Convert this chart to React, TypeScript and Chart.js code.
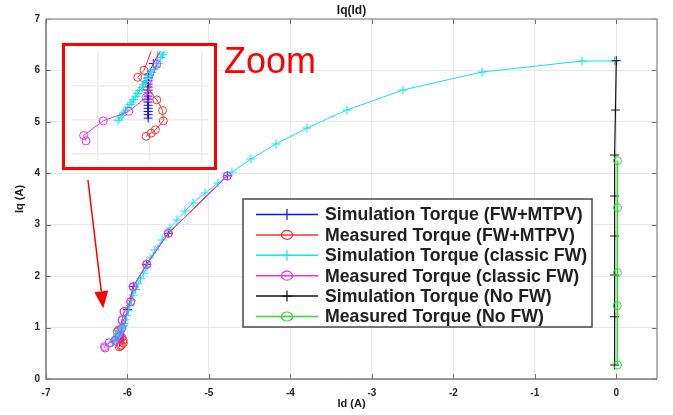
import React, { useEffect, useRef } from "react";
import { Chart, registerables } from "chart.js";

Chart.register(...registerables);

const FONT = "'Liberation Sans', Arial, Helvetica, sans-serif";

// ---- axes ----
const xTicks = [-7, -6, -5, -4, -3, -2, -1, 0];
const yTicks = [0, 1, 2, 3, 4, 5, 6, 7];
const xRange = [-7, 0.5];
const yRange = [0, 7];
const chartTitle = "Iq(Id)";
const xTitle = "Id (A)";
const yTitle = "Iq (A)";

// ---- inset (zoomed view) axes ----
const insetXRange = [-6.32, -5.92];
const insetYRange = [0.5, 1.05];
const insetXTicks = [-6.24, -6.09, -5.94];
const insetYTicks = [0.54, 0.71, 0.88];
const zoomLabel = "Zoom";
const arrowFrom = { x: -6.485, y: 3.87 };
const arrowTo = { x: -6.297, y: 1.375 };

// ---- series labels ----
const seriesLabels = [
  "Simulation Torque (FW+MTPV)",
  "Measured Torque (FW+MTPV)",
  "Simulation Torque (classic FW)",
  "Measured Torque (classic FW)",
  "Simulation Torque (No FW)",
  "Measured Torque (No FW)",
];

// Simulation Torque (FW+MTPV)
const simMtpvX = [-4.775, -5.499, -5.764, -5.929, -6.0, -6.05, -6.08, -6.095, -6.095, -6.095, -6.095, -6.095, -6.095, -6.095, -6.095, -6.095, -6.095, -6.095, -6.095, -6.095, -6.095, -6.095];
const simMtpvY = [3.95, 2.833, 2.23, 1.795, 1.35, 1.08, 0.99, 0.933, 0.918, 0.903, 0.887, 0.872, 0.857, 0.843, 0.827, 0.812, 0.797, 0.781, 0.766, 0.75, 0.734, 0.717];

// Measured Torque (FW+MTPV)
const measMtpvX = [-4.775, -5.499, -5.764, -5.929, -5.96, -6.04, -6.065, -6.107, -6.125, -6.101, -6.07, -6.053, -6.051, -6.074, -6.086, -6.101];
const measMtpvY = [3.947, 2.833, 2.23, 1.795, 1.503, 1.309, 1.147, 0.956, 0.921, 0.876, 0.808, 0.755, 0.703, 0.658, 0.642, 0.626];

// Simulation Torque (classic FW)
const simClassicX = [-0.02, -0.421, -1.648, -2.618, -3.306, -3.797, -4.177, -4.484, -4.717, -4.889, -5.048, -5.195, -5.294, -5.392, -5.478, -5.576, -5.662, -5.723, -5.76, -5.8, -5.84, -5.87, -5.9, -5.93, -5.95, -5.97, -5.99, -6.01, -6.03, -6.04, -6.05, -6.053, -6.058, -6.066, -6.072, -6.079, -6.085, -6.09, -6.097, -6.102, -6.108, -6.112, -6.119, -6.125, -6.131, -6.137, -6.142, -6.147, -6.154, -6.16, -6.166, -6.171, -6.177, -6.182];
const simClassicY = [6.185, 6.183, 5.969, 5.619, 5.23, 4.88, 4.569, 4.278, 4.025, 3.811, 3.617, 3.422, 3.267, 3.092, 2.936, 2.703, 2.508, 2.353, 2.178, 2.06, 1.95, 1.85, 1.74, 1.63, 1.53, 1.43, 1.33, 1.24, 1.15, 1.08, 1.047, 1.034, 1.02, 0.99, 0.976, 0.96, 0.945, 0.93, 0.915, 0.9, 0.885, 0.87, 0.855, 0.84, 0.826, 0.81, 0.797, 0.785, 0.771, 0.757, 0.743, 0.73, 0.718, 0.706];

// Measured Torque (classic FW)
const measClassicX = [-4.775, -5.499, -5.764, -5.929, -5.96, -6.04, -6.065, -6.07, -6.101, -6.151, -6.225, -6.282, -6.275];
const measClassicY = [3.947, 2.833, 2.23, 1.795, 1.503, 1.309, 1.147, 0.986, 0.82, 0.751, 0.703, 0.63, 0.603];

// Simulation Torque (No FW)
const simNoFwX = [0.0, -0.01, -0.02, -0.02, -0.02, -0.02, -0.02, -0.02];
const simNoFwY = [6.189, 5.23, 4.355, 3.558, 2.781, 2.022, 1.211, 0.272];

// Measured Torque (No FW)
const measNoFwX = [0.015, 0.015, 0.015, 0.012, 0.015];
const measNoFwY = [4.245, 3.331, 2.067, 1.425, 0.272];

const seriesX = [simMtpvX, measMtpvX, simClassicX, measClassicX, simNoFwX, measNoFwX];
const seriesY = [simMtpvY, measMtpvY, simClassicY, measClassicY, simNoFwY, measNoFwY];
const seriesColors = ["#1010ff", "#ff3030", "#10e4ec", "#ee30ee", "#111111", "#28e028"];
const seriesMarkers = ["cross", "circle", "cross", "circle", "cross", "circle"];
const seriesLineWidths = [1, 1, 1, 1, 1.2, 1.5];
const seriesOrder = [5, 4, 3, 2, 1, 0];

function buildDatasets(markerScale: number) {
  return seriesLabels.map((label, i) => ({
    label,
    data: seriesX[i].map((x, j) => ({ x, y: seriesY[i][j] })),
    showLine: true,
    borderColor: seriesColors[i],
    borderWidth: seriesLineWidths[i],
    pointStyle: seriesMarkers[i],
    pointRadius: (seriesMarkers[i] === "circle" ? 4 : 4.5) * markerScale,
    pointBorderWidth: 1,
    pointBorderColor: seriesColors[i],
    pointBackgroundColor: "rgba(0,0,0,0)",
    pointHoverRadius: 0,
    tension: 0,
    fill: false,
    order: seriesOrder[i],
  }));
}

const framePlugin = {
  id: "matlabFrame",
  afterDatasetsDraw(chart: any) {
    const ctx = chart.ctx;
    const { left, right, top, bottom } = chart.chartArea;
    const xs = chart.scales.x;
    const ys = chart.scales.y;
    ctx.save();
    ctx.strokeStyle = "#6e6e6e";
    ctx.lineWidth = 1;
    ctx.beginPath();
    xTicks.forEach((v) => {
      const px = Math.round(xs.getPixelForValue(v)) + 0.5;
      ctx.moveTo(px, bottom);
      ctx.lineTo(px, bottom - 5);
      ctx.moveTo(px, top);
      ctx.lineTo(px, top + 5);
    });
    yTicks.forEach((v) => {
      const py = Math.round(ys.getPixelForValue(v)) + 0.5;
      ctx.moveTo(left, py);
      ctx.lineTo(left + 5, py);
      ctx.moveTo(right, py);
      ctx.lineTo(right - 5, py);
    });
    ctx.stroke();
    ctx.lineWidth = 1.6;
    ctx.strokeStyle = "#a0a0a0";
    ctx.beginPath();
    ctx.moveTo(left, top);
    ctx.lineTo(right, top);
    ctx.lineTo(right, bottom);
    ctx.stroke();
    ctx.strokeStyle = "#7c7c7c";
    ctx.beginPath();
    ctx.moveTo(left, top);
    ctx.lineTo(left, bottom);
    ctx.lineTo(right, bottom);
    ctx.stroke();
    ctx.restore();
  },
  afterDraw(chart: any) {
    const ctx = chart.ctx;
    const { left, right, top, bottom } = chart.chartArea;
    const xs = chart.scales.x;
    const ys = chart.scales.y;
    ctx.save();
    ctx.fillStyle = "#1a1a1a";
    ctx.textAlign = "center";
    ctx.textBaseline = "middle";
    ctx.font = `bold 12px ${FONT}`;
    ctx.fillText(chartTitle, (left + right) / 2, top - 8);
    ctx.font = `bold 11px ${FONT}`;
    ctx.fillText(xTitle, (left + right) / 2, bottom + 25);
    ctx.save();
    ctx.translate(left - 26, (top + bottom) / 2);
    ctx.rotate(-Math.PI / 2);
    ctx.fillText(yTitle, 0, 0);
    ctx.restore();

    // arrow
    const x0 = xs.getPixelForValue(arrowFrom.x);
    const y0 = ys.getPixelForValue(arrowFrom.y);
    const x1 = xs.getPixelForValue(arrowTo.x);
    const y1 = ys.getPixelForValue(arrowTo.y);
    const ang = Math.atan2(y1 - y0, x1 - x0);
    const headLen = 17;
    const headHalf = 7;
    const bx = x1 - headLen * Math.cos(ang);
    const by = y1 - headLen * Math.sin(ang);
    ctx.strokeStyle = "#ff0000";
    ctx.fillStyle = "#ff0000";
    ctx.lineWidth = 1.5;
    ctx.beginPath();
    ctx.moveTo(x0, y0);
    ctx.lineTo(bx, by);
    ctx.stroke();
    ctx.beginPath();
    ctx.moveTo(x1, y1);
    ctx.lineTo(bx + headHalf * Math.sin(ang), by - headHalf * Math.cos(ang));
    ctx.lineTo(bx - headHalf * Math.sin(ang), by + headHalf * Math.cos(ang));
    ctx.closePath();
    ctx.fill();

    // legend
    const lgLeft = left + 197;
    const lgTop = top + 180;
    const lgW = 349;
    const lgH = 128;
    ctx.fillStyle = "#ffffff";
    ctx.fillRect(lgLeft, lgTop, lgW, lgH);
    ctx.strokeStyle = "#4a4a4a";
    ctx.lineWidth = 1.5;
    ctx.strokeRect(lgLeft, lgTop, lgW, lgH);
    const rowStart = lgTop + 15.5;
    const rowStep = 20.4;
    seriesLabels.forEach((label, i) => {
      const ry = rowStart + i * rowStep;
      const lx0 = lgLeft + 13;
      const lx1 = lgLeft + 75;
      const mx = (lx0 + lx1) / 2;
      ctx.strokeStyle = seriesColors[i];
      ctx.lineWidth = 1.5;
      ctx.beginPath();
      ctx.moveTo(lx0, ry);
      ctx.lineTo(lx1, ry);
      ctx.stroke();
      ctx.lineWidth = 1.2;
      ctx.beginPath();
      if (seriesMarkers[i] === "circle") {
        ctx.ellipse(mx, ry, 5.5, 4.5, 0, 0, Math.PI * 2);
      } else {
        ctx.moveTo(mx, ry - 5.5);
        ctx.lineTo(mx, ry + 5.5);
        ctx.moveTo(mx - 5, ry);
        ctx.lineTo(mx + 5, ry);
      }
      ctx.stroke();
      ctx.fillStyle = "#202020";
      ctx.textAlign = "left";
      ctx.textBaseline = "middle";
      ctx.font = `bold 17.7px ${FONT}`;
      ctx.fillText(label, lgLeft + 82, ry + 1);
    });
    ctx.restore();
  },
};

const insetFramePlugin = {
  id: "insetBg",
  beforeDraw(chart: any) {
    const ctx = chart.ctx;
    ctx.save();
    ctx.fillStyle = "#ffffff";
    ctx.fillRect(0, 0, chart.width, chart.height);
    ctx.restore();
  },
};

export default function App() {
  const mainRef = useRef<HTMLCanvasElement | null>(null);
  const insetRef = useRef<HTMLCanvasElement | null>(null);

  useEffect(() => {
    document.body.style.margin = "0";
    const tickFont = { family: FONT, size: 10, weight: "bold" as const };
    const main = new Chart(mainRef.current as HTMLCanvasElement, {
      type: "scatter",
      data: { datasets: buildDatasets(1) as any },
      plugins: [framePlugin],
      options: {
        responsive: false,
        animation: false,
        devicePixelRatio: 1,
        events: [],
        layout: { padding: { top: 19, right: 16, left: 0, bottom: 0 } },
        plugins: {
          legend: { display: false },
          title: { display: false },
          tooltip: { enabled: false },
        },
        scales: {
          x: {
            type: "linear",
            min: xRange[0],
            max: xRange[1],
            afterBuildTicks: (s: any) => {
              s.ticks = xTicks.map((v) => ({ value: v }));
            },
            afterFit: (s: any) => {
              s.height = 36;
            },
            grid: { color: "#e8e8e8", lineWidth: 1, drawTicks: false },
            border: { display: false },
            ticks: { padding: 8, font: tickFont, color: "#262626", maxRotation: 0, autoSkip: false },
          },
          y: {
            type: "linear",
            min: yRange[0],
            max: yRange[1],
            afterBuildTicks: (s: any) => {
              s.ticks = yTicks.map((v) => ({ value: v }));
            },
            afterFit: (s: any) => {
              s.width = 46;
            },
            grid: { color: "#e8e8e8", lineWidth: 1, drawTicks: false },
            border: { display: false },
            ticks: { padding: 6, font: tickFont, color: "#262626", autoSkip: false },
          },
        },
      },
    });

    const inset = new Chart(insetRef.current as HTMLCanvasElement, {
      type: "scatter",
      data: { datasets: buildDatasets(1) as any },
      plugins: [insetFramePlugin],
      options: {
        responsive: false,
        animation: false,
        devicePixelRatio: 1,
        events: [],
        layout: { padding: 0 },
        plugins: {
          legend: { display: false },
          title: { display: false },
          tooltip: { enabled: false },
        },
        scales: {
          x: {
            type: "linear",
            min: insetXRange[0],
            max: insetXRange[1],
            afterBuildTicks: (s: any) => {
              s.ticks = insetXTicks.map((v) => ({ value: v }));
            },
            grid: { color: "#ececec", lineWidth: 1.5, drawTicks: false },
            border: { display: false },
            ticks: { display: false },
          },
          y: {
            type: "linear",
            min: insetYRange[0],
            max: insetYRange[1],
            afterBuildTicks: (s: any) => {
              s.ticks = insetYTicks.map((v) => ({ value: v }));
            },
            grid: { color: "#ececec", lineWidth: 1.5, drawTicks: false },
            border: { display: false },
            ticks: { display: false },
          },
        },
      },
    });

    return () => {
      main.destroy();
      inset.destroy();
    };
  }, []);

  return (
    <div style={{ position: "fixed", left: 0, top: 0, width: 673, height: 415, background: "#ffffff", overflow: "hidden" }}>
      <canvas ref={mainRef} width={673} height={415} style={{ position: "absolute", left: 0, top: 0 }} />
      <div
        style={{
          position: "absolute",
          left: 62,
          top: 43,
          width: 149,
          height: 121,
          border: "3px solid #ff0000",
          background: "#ffffff",
        }}
      >
        <canvas ref={insetRef} width={149} height={121} style={{ display: "block" }} />
      </div>
      <div
        style={{
          position: "absolute",
          left: 224,
          top: 43,
          fontFamily: FONT,
          fontSize: 36,
          lineHeight: "36px",
          color: "#ff0000",
          whiteSpace: "nowrap",
        }}
      >
        {zoomLabel}
      </div>
    </div>
  );
}
